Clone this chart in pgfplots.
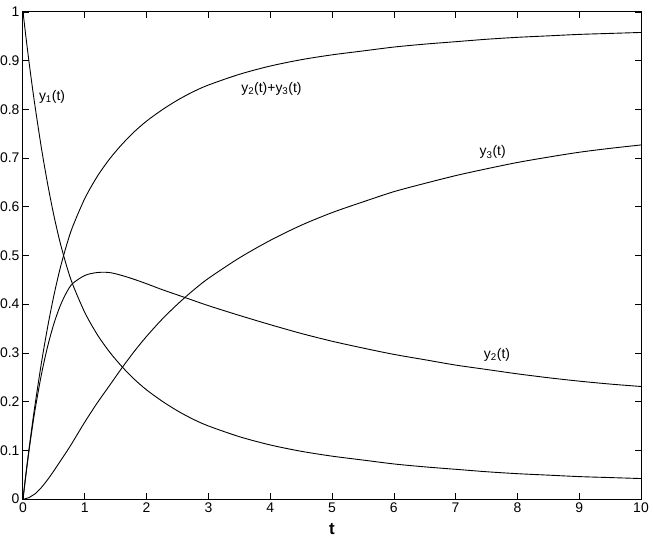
\documentclass[border=0pt]{standalone}
\usepackage{fontspec}
\setmainfont{Liberation Sans}
\usepackage{pgfplots}
\pgfplotsset{compat=1.18}

% values: t, y1, y2, y2+y3, y3
\pgfplotstableread{
t     y1     y2     ysum   y3
0     1.000  0.000  0.000  0.000
0.025 0.973  0.027  0.027  0.000
0.05  0.946  0.053  0.054  0.001
0.1   0.895  0.102  0.105  0.003
0.15  0.847  0.146  0.153  0.007
0.2   0.802  0.187  0.198  0.011
0.3   0.719  0.257  0.281  0.024
0.4   0.646  0.314  0.354  0.040
0.5   0.582  0.360  0.418  0.058
0.6   0.527  0.396  0.473  0.077
0.7   0.481  0.423  0.519  0.096
0.8   0.442  0.442  0.558  0.116
1.0   0.383  0.459  0.617  0.158
1.2   0.338  0.465  0.662  0.197
1.4   0.302  0.465  0.698  0.233
1.6   0.272  0.459  0.728  0.269
1.8   0.246  0.451  0.754  0.303
2.0   0.224  0.442  0.776  0.334
2.25  0.201  0.430  0.799  0.369
2.5   0.181  0.419  0.819  0.400
2.75  0.164  0.408  0.836  0.428
3.0   0.150  0.397  0.850  0.453
3.5   0.128  0.377  0.872  0.495
4.0   0.111  0.358  0.889  0.531
4.5   0.098  0.340  0.902  0.562
5.0   0.088  0.324  0.912  0.588
5.5   0.080  0.310  0.920  0.610
6.0   0.072  0.297  0.928  0.631
6.5   0.066  0.286  0.934  0.648
7.0   0.061  0.275  0.939  0.664
7.5   0.056  0.266  0.944  0.678
8.0   0.052  0.257  0.948  0.691
8.5   0.049  0.249  0.951  0.702
9.0   0.046  0.242  0.954  0.712
9.5   0.044  0.236  0.956  0.720
10    0.042  0.231  0.958  0.727
}\datatable

\begin{document}
\begin{tikzpicture}
\begin{axis}[
    name=ax,
    scale only axis,
    width=618bp, height=487bp,
    xmin=0, xmax=10, ymin=0, ymax=1,
    xtick={0,1,...,10},
    ytick={0,0.1,...,1},
    yticklabel style={/pgf/number format/fixed},
    tick align=inside,
    major tick length=6bp,
    tick style={black, line width=0.6bp},
    axis line style={line width=1bp},
    /pgf/number format/assume math mode=true,
    tick label style={font=\fontsize{14}{16}\selectfont},
    xlabel={\textbf{t}},
    xlabel style={font=\fontsize{17}{20}\selectfont, yshift=-4bp},
]
\addplot[black, line width=0.9bp, smooth] table[x=t, y=y1] {\datatable};
\addplot[black, line width=0.9bp, smooth] table[x=t, y=y2] {\datatable};
\addplot[black, line width=0.9bp, smooth] table[x=t, y=ysum] {\datatable};
\addplot[black, line width=0.9bp, smooth] table[x=t, y=y3] {\datatable};
\begin{scope}[font=\fontsize{14}{16}\selectfont]
\node at (axis cs:0.47,0.825) {y\textsubscript{1}(t)};
\node at (axis cs:4.02,0.842) {y\textsubscript{2}(t)+y\textsubscript{3}(t)};
\node at (axis cs:7.6,0.712) {y\textsubscript{3}(t)};
\node at (axis cs:7.67,0.296) {y\textsubscript{2}(t)};
\end{scope}
\end{axis}
\pgfresetboundingbox
\path ([shift={(-23bp,-51bp)}]ax.south west) rectangle ([shift={(13bp,12bp)}]ax.north east);
\end{tikzpicture}
\end{document}
